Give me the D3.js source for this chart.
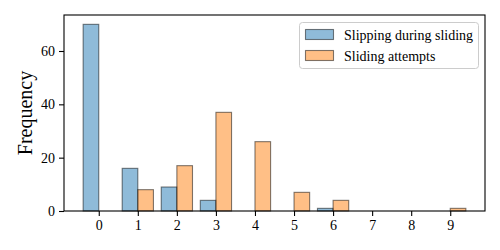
<!DOCTYPE html>
<html>
<head>
<meta charset="utf-8">
<script src="https://cdn.jsdelivr.net/npm/d3@7"></script>
<style>
  body { margin: 0; background: #fff; }
</style>
</head>
<body>
<div id="cntr"></div>
<script>
// counts per bin
const bins = [0, 1, 2, 3, 4, 5, 6, 7, 8, 9];
const slipping = [70, 16, 9, 4, 0, 0, 1, 0, 0, 0];
const attempts = [0, 8, 17, 37, 26, 7, 4, 0, 0, 1];
const yTicks = [0, 20, 40, 60];
const seriesNames = ["Slipping during sliding", "Sliding attempts"];
const colors = ["#1f77b4", "#ff7f0e"];

const FONT = "'Liberation Serif', 'Times New Roman', Times, 'DejaVu Serif', serif";
const width = 500, height = 250;
const margin = {top: 15, right: 15, bottom: 39, left: 64};

const svg = d3.select("#cntr")
    .append("svg")
    .attr("width", width)
    .attr("height", height)
    .style("font-family", FONT);

const x = d3.scaleLinear()
    .domain([-0.89, 9.89])
    .range([margin.left, width - margin.right]);

const y = d3.scaleLinear()
    .domain([0, 73.5])
    .range([height - margin.bottom, margin.top]);

const barW = 0.4;

// bars: blue sits left of the tick, orange right of it
const series = [slipping, attempts];
series.forEach((vals, s) => {
    svg.append("g")
        .selectAll("rect")
        .data(bins.map((b, i) => ({b, v: vals[i]})))
        .join("rect")
            .attr("x", d => s === 0 ? x(d.b - barW) : x(d.b))
            .attr("width", x(barW) - x(0))
            .attr("y", d => y(d.v))
            .attr("height", d => y(0) - y(d.v))
            .attr("fill", colors[s])
            .attr("fill-opacity", 0.5)
            .attr("stroke", "#000")
            .attr("stroke-opacity", 0.5)
            .attr("stroke-width", 1.1);
});

// axes
const xAxis = svg.append("g")
    .attr("transform", "translate(0," + y(0) + ")")
    .call(d3.axisBottom(x).tickValues(bins).tickSize(5).tickPadding(4).tickFormat(d3.format("d")));

const yAxis = svg.append("g")
    .attr("transform", "translate(" + margin.left + ",0)")
    .call(d3.axisLeft(y).tickValues(yTicks).tickSize(5).tickPadding(4).tickFormat(d3.format("d")));

[xAxis, yAxis].forEach(a => {
    a.attr("font-family", null).attr("font-size", null);
    a.select(".domain").remove();
    a.selectAll("line").attr("stroke", "#000").attr("stroke-width", 1.1);
    a.selectAll("text").style("font-family", FONT).style("font-size", "14px").attr("fill", "#000");
});

// frame
svg.append("rect")
    .attr("x", margin.left)
    .attr("y", margin.top)
    .attr("width", width - margin.left - margin.right)
    .attr("height", height - margin.top - margin.bottom)
    .attr("fill", "none")
    .attr("stroke", "#000")
    .attr("stroke-width", 1.1);

svg.append("text")
    .attr("transform", "translate(32," + (margin.top + (height - margin.top - margin.bottom) / 2) + ") rotate(-90)")
    .attr("text-anchor", "middle")
    .style("font-family", FONT)
    .style("font-size", "20px")
    .text("Frequency");

// legend
const legend = svg.append("g").attr("transform", "translate(299.5,22.5)");
legend.append("rect")
    .attr("width", 179)
    .attr("height", 46)
    .attr("rx", 3)
    .attr("fill", "#fff")
    .attr("fill-opacity", 0.8)
    .attr("stroke", "#ccc")
    .attr("stroke-width", 1);

seriesNames.forEach((name, i) => {
    const row = legend.append("g").attr("transform", "translate(0," + (i * 21) + ")");
    row.append("rect")
        .attr("x", 6)
        .attr("y", 7)
        .attr("width", 28)
        .attr("height", 10)
        .attr("fill", colors[i])
        .attr("fill-opacity", 0.5)
        .attr("stroke", "#000")
        .attr("stroke-opacity", 0.5)
        .attr("stroke-width", 1.1);
    row.append("text")
        .attr("x", 44.5)
        .attr("y", 17)
        .style("font-family", FONT)
        .style("font-size", "14px")
        .text(name);
});
</script>
</body>
</html>
